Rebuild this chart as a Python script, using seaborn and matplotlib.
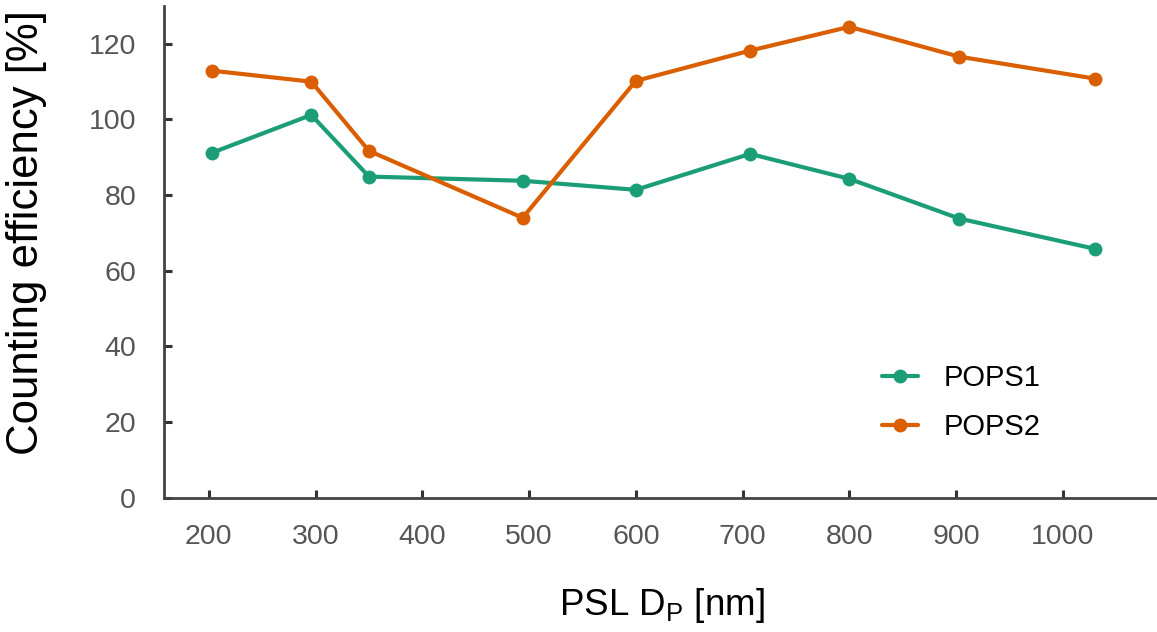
import matplotlib
matplotlib.use("Agg")
import matplotlib.pyplot as plt
import seaborn as sns
import pandas as pd

# Data
psl_diameter = [203, 296, 350, 494, 600, 707, 800, 903, 1030]
pops1 = [91.2, 101.2, 84.9, 83.8, 81.4, 90.9, 84.3, 73.8, 65.8]
pops2 = [112.9, 110.0, 91.7, 74.0, 110.2, 118.2, 124.5, 116.6, 110.8]
series_names = ["POPS1", "POPS2"]
x_ticks = [200, 300, 400, 500, 600, 700, 800, 900, 1000]
y_ticks = [0, 20, 40, 60, 80, 100, 120]

df = pd.DataFrame({
    "dp": psl_diameter * 2,
    "eff": pops1 + pops2,
    "inst": [series_names[0]] * len(pops1) + [series_names[1]] * len(pops2),
})

sns.set_theme(style="ticks")
plt.rcParams["font.family"] = ["Liberation Sans", "DejaVu Sans"]
plt.rcParams["mathtext.fontset"] = "custom"
plt.rcParams["mathtext.rm"] = "Liberation Sans"

fig = plt.figure(figsize=(11.57, 6.32), dpi=100)
ax = fig.add_axes([0.1417, 0.2125, 0.86, 0.778])

palette = {"POPS1": "#1b9e77", "POPS2": "#d95f02"}
sns.lineplot(data=df, x="dp", y="eff", hue="inst", palette=palette,
             marker="o", markersize=10, markeredgewidth=0, linewidth=3,
             ax=ax)

ax.set_xlim(158, 1090)
ax.set_ylim(0, 130)
ax.set_xticks(x_ticks)
ax.set_yticks(y_ticks)
ax.tick_params(direction="in", length=6, width=2.2, colors="#333333",
               labelsize=20.5, labelcolor="#555555")
ax.tick_params(axis="y", pad=20)
ax.tick_params(axis="x", pad=19)
for s in ["top", "right"]:
    ax.spines[s].set_visible(False)
for s in ["left", "bottom"]:
    ax.spines[s].set_color("#444444")
    ax.spines[s].set_linewidth(2)

ax.set_xlabel(r"PSL D$_\mathregular{P}$ [nm]", fontsize=26.5, labelpad=26, color="black")
ax.set_ylabel("Counting efficiency [%]", fontsize=31.5, color="black")
ax.yaxis.set_label_coords(-0.118, 0.54)

leg = ax.legend(frameon=False, fontsize=21, loc="upper left",
                bbox_to_anchor=(0.7216, 0.272), borderaxespad=0, borderpad=0,
                handlelength=1.25, handletextpad=0.85, labelspacing=0.72)
for t in leg.get_texts():
    t.set_color("black")

fig.savefig("out.png", dpi=100)
